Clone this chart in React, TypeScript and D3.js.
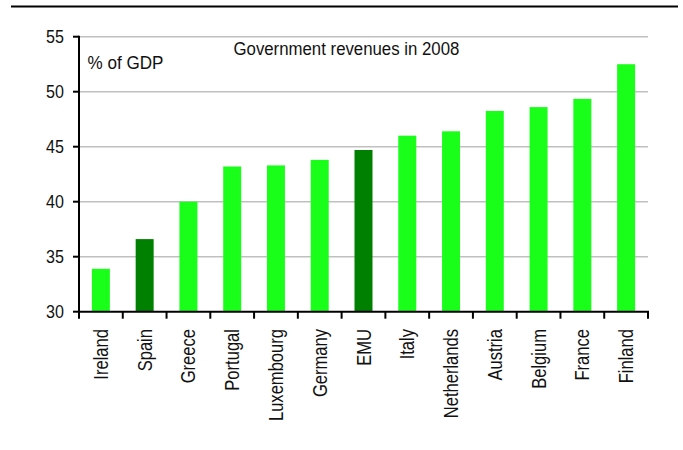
import React from "react";
import * as d3 from "d3";

const categories = ["Ireland", "Spain", "Greece", "Portugal", "Luxembourg", "Germany", "EMU", "Italy", "Netherlands", "Austria", "Belgium", "France", "Finland"];
const values = [33.9, 36.6, 40.0, 43.2, 43.3, 43.8, 44.7, 46.0, 46.4, 48.25, 48.6, 49.35, 52.5];
const highlighted = ["Spain", "EMU"];
const yTicks = [30, 35, 40, 45, 50, 55];
const title = "Government revenues in 2008";
const unitLabel = "% of GDP";

const W = 683;
const H = 450;
const left = 79;
const right = 648;
const top = 36.7;
const bottom = 311.7;
const FONT = "'Liberation Sans', Arial, sans-serif";

export default function App() {
  const pad = 0.589;
  const x = d3.scaleBand<string>().domain(categories).range([left, right]).paddingInner(pad).paddingOuter(pad / 2);
  const y = d3.scaleLinear().domain([30, 55]).range([bottom, top]);
  const step = x.step();
  const boundaries = d3.range(categories.length + 1).map((i) => left + i * step);

  return (
    <svg width={W} height={H} style={{ position: "absolute", left: 0, top: 0, background: "#fff" }}>
      <line x1={11} x2={678} y1={6.5} y2={6.5} stroke="#000" strokeWidth={2} />
      {yTicks.filter((t) => t > 30).map((t) => (
        <line key={"g" + t} x1={left} x2={right} y1={y(t)} y2={y(t)} stroke="#c0c0c0" strokeWidth={1.6} />
      ))}
      {categories.map((c, i) => (
        <rect
          key={c}
          x={x(c)}
          width={x.bandwidth()}
          y={y(values[i])}
          height={bottom - y(values[i])}
          fill={highlighted.includes(c) ? "#008000" : "#19ff19"}
        />
      ))}
      <line x1={left} x2={left} y1={top - 1} y2={bottom + 1} stroke="#000" strokeWidth={2} />
      <line x1={left - 1} x2={right + 1} y1={bottom} y2={bottom} stroke="#000" strokeWidth={2} />
      {yTicks.map((t) => (
        <g key={"t" + t}>
          <line x1={left - 6} x2={left} y1={y(t)} y2={y(t)} stroke="#000" strokeWidth={2} />
          <text
            transform={`translate(64,${y(t)}) scale(0.92,1)`}
            dy="0.36em"
            textAnchor="end"
            fontFamily={FONT}
            fontSize={17.5}
            fill="#111"
          >
            {t}
          </text>
        </g>
      ))}
      {boundaries.map((bx, i) => (
        <line key={"b" + i} x1={bx} x2={bx} y1={bottom} y2={bottom + 7} stroke="#000" strokeWidth={2} />
      ))}
      {categories.map((c) => {
        const cx = (x(c) as number) + x.bandwidth() / 2;
        return (
          <text
            key={"l" + c}
            transform={`translate(${cx},${329}) rotate(-90) scale(0.85,1)`}
            dy="0.36em"
            textAnchor="end"
            fontFamily={FONT}
            fontSize={19.5}
            fill="#111"
          >
            {c}
          </text>
        );
      })}
      <text transform={`translate(233.5,55) scale(0.96,1)`} fontFamily={FONT} fontSize={17.5} fill="#111">
        {title}
      </text>
      <text transform={`translate(87.5,69) scale(0.95,1)`} fontFamily={FONT} fontSize={18} fill="#111">
        {unitLabel}
      </text>
    </svg>
  );
}
